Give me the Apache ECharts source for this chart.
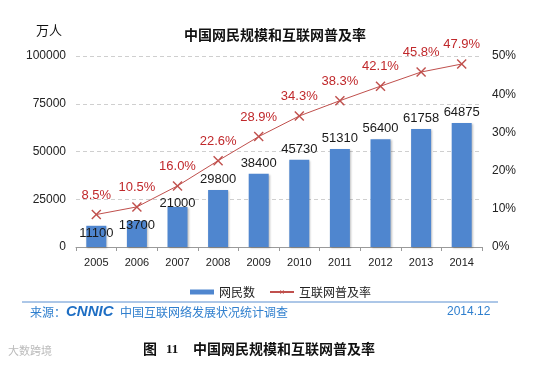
<!DOCTYPE html>
<html><head><meta charset="utf-8">
<script src="https://cdn.jsdelivr.net/npm/echarts@6/dist/echarts.min.js"></script>
<style>html,body{margin:0;padding:0;background:#fff}#c{width:550px;height:370px}</style>
</head><body><div id="c"></div>
<script>
const years = ['2005','2006','2007','2008','2009','2010','2011','2012','2013','2014'];
const netizens = [11100,13700,21000,29800,38400,45730,51310,56400,61758,64875];
const penetration = [8.5,10.5,16.0,22.6,28.9,34.3,38.3,42.1,45.8,47.9];
const leftTicks = [0,25000,50000,75000,100000];
const rightTicks = [0,10,20,30,40,50];

const FONT = '"Liberation Sans", Arial, "Noto Sans CJK SC", sans-serif';
const CJK = '"Noto Sans CJK SC", sans-serif';
const labelShift = [18,15,7,0,0,0,0,0,0,0];
const crossPath = 'path://M0,1 L1,0 L5,4 L9,0 L10,1 L6,5 L10,9 L9,10 L5,6 L1,10 L0,9 L4,5 Z';

const chart = echarts.init(document.getElementById('c'), null, {renderer:'canvas'});
chart.setOption({
  backgroundColor:'#fff',
  animation:false,
  title:{text:'中国网民规模和互联网普及率', left:'center', top:23,
    textStyle:{fontFamily:CJK, fontSize:14, fontWeight:'bold', color:'#111'}},
  grid:{left:76, right:68, top:56, bottom:123, containLabel:false},
  legend:{top:281, left:185, itemGap:14, itemWidth:24, itemHeight:5,
    textStyle:{fontFamily:CJK, fontSize:12, color:'#222'},
    data:[{name:'网民数', icon:'rect'},{name:'互联网普及率'}]},
  xAxis:{type:'category', data:years,
    axisLine:{lineStyle:{color:'#9a9a9a'}},
    axisTick:{show:true, length:4, lineStyle:{color:'#9a9a9a'}},
    axisLabel:{fontFamily:FONT, fontSize:11, color:'#222', margin:10}},
  yAxis:[
    {type:'value', min:leftTicks[0], max:leftTicks[leftTicks.length-1], interval:leftTicks[1]-leftTicks[0],
      axisLine:{show:false}, axisTick:{show:false},
      axisLabel:{fontFamily:FONT, fontSize:12, color:'#222', margin:10, formatter:v=>String(v)},
      splitLine:{lineStyle:{color:'#cfcfcf', type:[4,3]}}},
    {type:'value', min:rightTicks[0], max:rightTicks[rightTicks.length-1], interval:rightTicks[1]-rightTicks[0],
      axisLine:{show:false}, axisTick:{show:false},
      axisLabel:{fontFamily:FONT, fontSize:12, color:'#222', margin:10, formatter:'{value}%'},
      splitLine:{show:false}}
  ],
  series:[
    {name:'网民数', type:'bar', yAxisIndex:0, barWidth:20,
      itemStyle:{color:'#4f86cf', shadowColor:'rgba(0,0,0,0.25)', shadowBlur:2, shadowOffsetX:1, shadowOffsetY:1},
      data: netizens.map((v,i)=>({value:v, label:{offset:[0,labelShift[i]]}})),
      label:{show:true, position:'top', distance:4, fontFamily:FONT, fontSize:13, color:'#1a1a1a'}},
    {name:'互联网普及率', type:'line', yAxisIndex:1, data:penetration,
      symbol:crossPath, symbolSize:10,
      lineStyle:{color:'#c0504d', width:1},
      itemStyle:{color:'#c0504d'},
      label:{show:true, position:'top', distance:8, fontFamily:FONT, fontSize:13, color:'#c0282b',
        formatter:p=>p.value.toFixed(1)+'%'}}
  ],
  graphic:[
    {type:'text', left:36, top:24, style:{text:'万人', font:'13px '+CJK, fill:'#111'}},
    {type:'line', shape:{x1:22,y1:302,x2:498,y2:302}, style:{stroke:'#5b8fd0', lineWidth:1}},
    {type:'text', left:30, top:306, style:{text:'来源：', font:'12px '+CJK, fill:'#2f7fce'}},
    {type:'text', left:66, top:304, style:{text:'CNNIC', font:'italic bold 15px '+FONT, fill:'#1f6fc4'}},
    {type:'text', left:120, top:306, style:{text:'中国互联网络发展状况统计调查', font:'12px '+CJK, fill:'#2f7fce'}},
    {type:'text', left:447, top:306, style:{text:'2014.12', font:'12px '+FONT, fill:'#2f7fce'}},
    {type:'text', left:143, top:342, style:{text:'图', font:'bold 14px '+CJK, fill:'#111'}},
    {type:'text', left:166, top:343, style:{text:'11', font:'bold 13px "Liberation Serif", serif', fill:'#111'}},
    {type:'text', left:193, top:342, style:{text:'中国网民规模和互联网普及率', font:'bold 14px '+CJK, fill:'#111'}},
    {type:'text', left:8, top:345, style:{text:'大数跨境', font:'11px '+CJK, fill:'#bbbbbb'}}
  ]
});
</script></body></html>
